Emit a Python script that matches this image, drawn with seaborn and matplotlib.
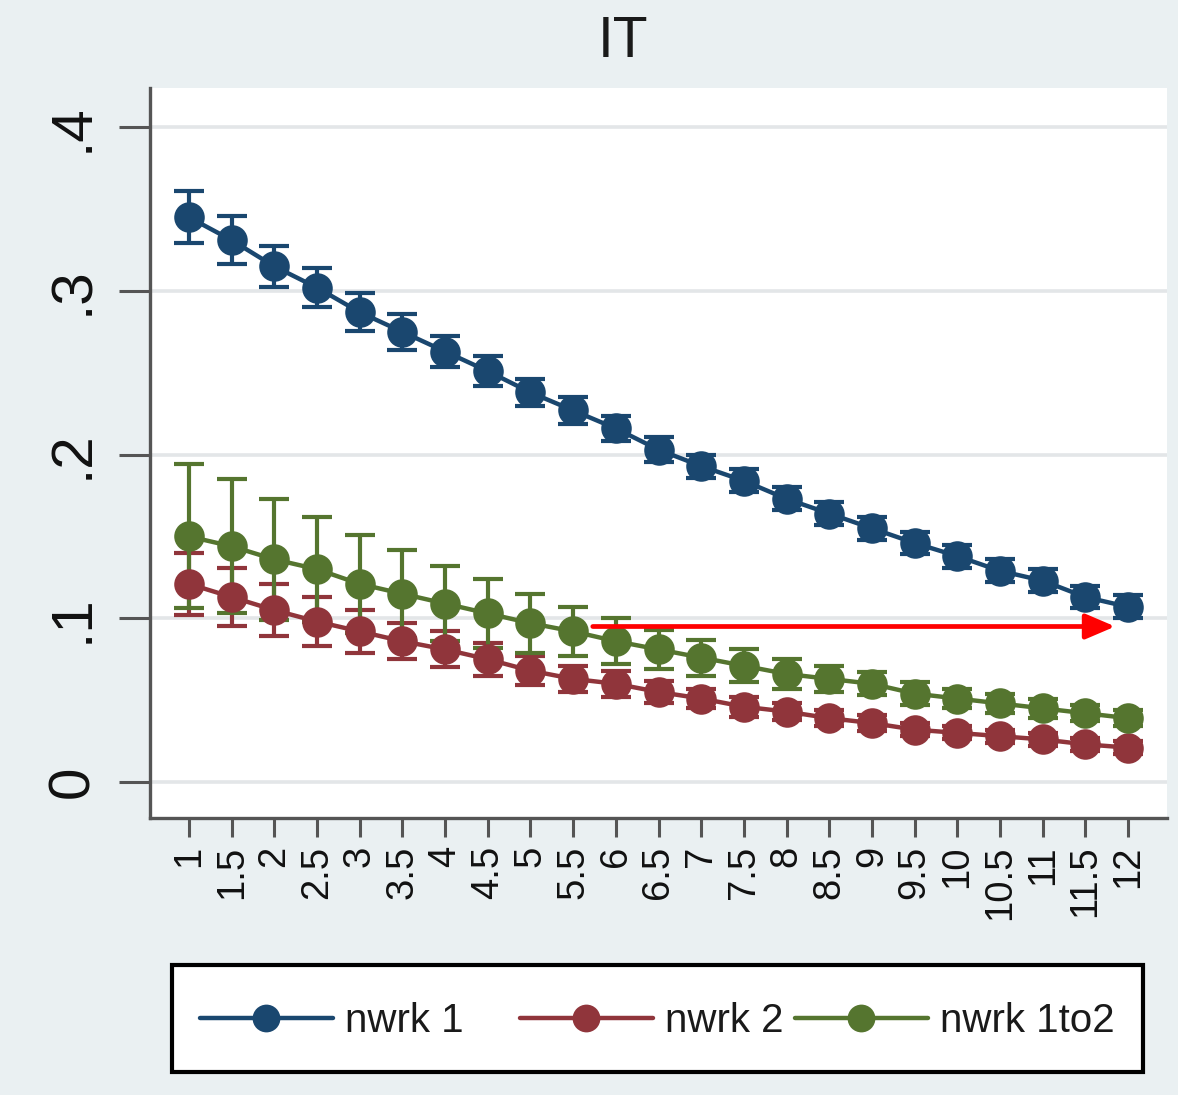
import matplotlib
matplotlib.use("Agg")
import matplotlib.pyplot as plt
from matplotlib.lines import Line2D
from matplotlib.patches import Rectangle
import numpy as np
import pandas as pd
import seaborn as sns

# ---- data -------------------------------------------------------------
x_vals = [1, 1.5, 2, 2.5, 3, 3.5, 4, 4.5, 5, 5.5, 6, 6.5, 7, 7.5, 8, 8.5,
          9, 9.5, 10, 10.5, 11, 11.5, 12]
x_labels = ["1", "1.5", "2", "2.5", "3", "3.5", "4", "4.5", "5", "5.5", "6",
            "6.5", "7", "7.5", "8", "8.5", "9", "9.5", "10", "10.5", "11",
            "11.5", "12"]

nwrk1 = [0.345, 0.331, 0.315, 0.302, 0.287, 0.275, 0.263, 0.251, 0.238, 0.227,
         0.216, 0.203, 0.193, 0.184, 0.173, 0.164, 0.155, 0.146, 0.138, 0.129,
         0.123, 0.113, 0.107]
nwrk1_ci = [0.016, 0.0145, 0.0125, 0.012, 0.0115, 0.011, 0.0095, 0.009, 0.0085,
            0.008, 0.0075, 0.0075, 0.007, 0.007, 0.007, 0.007, 0.007, 0.007,
            0.007, 0.007, 0.007, 0.007, 0.007]

nwrk2 = [0.121, 0.113, 0.105, 0.098, 0.092, 0.086, 0.081, 0.075, 0.068, 0.063,
         0.060, 0.055, 0.051, 0.046, 0.043, 0.039, 0.036, 0.032, 0.030, 0.028,
         0.026, 0.023, 0.021]
nwrk2_ci = [0.019, 0.018, 0.016, 0.015, 0.013, 0.011, 0.011, 0.010, 0.009,
            0.008, 0.008, 0.007, 0.006, 0.006, 0.005, 0.005, 0.005, 0.004,
            0.004, 0.004, 0.004, 0.004, 0.004]

nwrk1to2 = [0.150, 0.144, 0.136, 0.130, 0.121, 0.115, 0.109, 0.103, 0.097,
            0.092, 0.086, 0.081, 0.076, 0.071, 0.066, 0.063, 0.060, 0.054,
            0.051, 0.048, 0.045, 0.042, 0.039]
nwrk1to2_ci = [0.044, 0.041, 0.037, 0.032, 0.030, 0.027, 0.023, 0.021, 0.018,
               0.015, 0.014, 0.012, 0.011, 0.010, 0.009, 0.008, 0.007, 0.007,
               0.006, 0.006, 0.006, 0.005, 0.005]

series_names = ["nwrk 1", "nwrk 2", "nwrk 1to2"]
series_colors = ["#1a476f", "#90353b", "#55752f"]

y_ticks = [0, 0.1, 0.2, 0.3, 0.4]
y_labels = ["0", ".1", ".2", ".3", ".4"]

# reference arrow (start x, end x, level)
arrow_x = [5.73, 11.85]
arrow_y = 0.095

# ---- styling ----------------------------------------------------------
sns.set_style("white")
plt.rcParams["font.family"] = ["Liberation Sans", "DejaVu Sans"]

bg = "#eaf0f2"
axis_grey = "#555555"

fig = plt.figure(figsize=(11.78, 10.95), dpi=100, facecolor=bg)
ax = fig.add_axes([150 / 1178, 1 - 818 / 1095, (1167 - 150) / 1178, (818 - 88) / 1095])
ax.set_facecolor("white")

df = pd.DataFrame({
    "x": x_vals * 3,
    "y": nwrk1 + nwrk2 + nwrk1to2,
    "ci": nwrk1_ci + nwrk2_ci + nwrk1to2_ci,
    "series": [s for s in series_names for _ in x_vals],
})
palette = dict(zip(series_names, series_colors))

# confidence intervals (capped spikes) beneath the connected markers
for name in series_names:
    sub = df[df["series"] == name]
    ax.errorbar(sub["x"], sub["y"], yerr=sub["ci"], fmt="none",
                ecolor=palette[name], elinewidth=3.0, capsize=10.5,
                capthick=3.0, zorder=2)

sns.lineplot(data=df, x="x", y="y", hue="series", palette=palette,
             marker="o", markersize=22, markeredgewidth=0, linewidth=3.2,
             legend=False, ax=ax, zorder=3, sort=False)

ax.annotate("", xy=(arrow_x[1], arrow_y), xytext=(arrow_x[0], arrow_y),
            arrowprops=dict(arrowstyle="-|>,head_length=0.75,head_width=0.32",
                            color="red", lw=3.4, mutation_scale=24,
                            shrinkA=0, shrinkB=0),
            zorder=5)

# axes
ax.set_xlim(0.543, 12.457)
ax.set_ylim(-0.022, 0.424)
ax.set_xticks(x_vals)
ax.set_xticklabels(x_labels)
ax.set_yticks(y_ticks)
ax.set_yticklabels(y_labels)
ax.set_xlabel("")
ax.set_ylabel("")

ax.yaxis.grid(True, color="#e3e6e8", linewidth=2.6)
ax.xaxis.grid(False)
ax.set_axisbelow(True)

for side in ["top", "right"]:
    ax.spines[side].set_visible(False)
for side in ["left", "bottom"]:
    ax.spines[side].set_color(axis_grey)
    ax.spines[side].set_linewidth(2.4)

ax.tick_params(axis="y", which="major", left=True, length=22, width=2.2,
               color=axis_grey, labelsize=42, pad=14, labelrotation=90,
               labelcolor="#111111")
ax.tick_params(axis="x", which="major", bottom=True, length=14, width=2.2,
               color=axis_grey, labelsize=27.5, pad=6, labelrotation=90,
               labelcolor="#111111")
for lbl in ax.get_yticklabels():
    lbl.set_va("center")

# title
fig.text(623 / 1178, 1 - 42 / 1095, "IT", ha="center", va="center",
         fontsize=41, color="#1a1a1a")

# legend box and entries
fig.patches.append(Rectangle((172 / 1178, 1 - 1072 / 1095), (1143 - 172) / 1178,
                             107 / 1095, transform=fig.transFigure,
                             facecolor="white", edgecolor="black",
                             linewidth=3, zorder=0))
entry_left = [200, 520, 795]
for name, color, left in zip(series_names, series_colors, entry_left):
    handle = Line2D([0], [0], color=color, lw=3.2, marker="o", markersize=20,
                    markeredgewidth=0)
    fig.legend([handle], [name], loc="center left",
               bbox_to_anchor=(left / 1178, 1 - 1021 / 1095),
               frameon=False, fontsize=29, handlelength=3.3,
               handletextpad=0.3, borderpad=0, borderaxespad=0,
               labelcolor="#1a1a1a")

fig.savefig("out.png", dpi=100, facecolor=bg)
